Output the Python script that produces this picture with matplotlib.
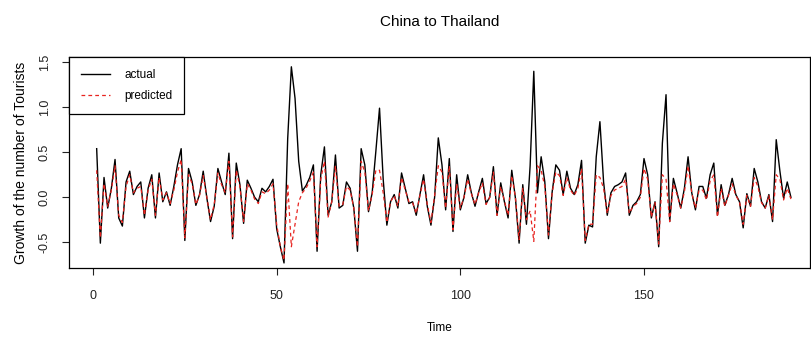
import numpy as np
import matplotlib.pyplot as plt

plt.rcParams['font.family'] = ['Liberation Sans Narrow', 'Liberation Sans', 'DejaVu Sans']

# monthly growth
actual = [
    0.54, -0.51, 0.22, -0.12, 0.10, 0.42, -0.23, -0.32, 0.17, 0.29,
    0.03, 0.12, 0.17, -0.23, 0.10, 0.25, -0.23, 0.27, -0.05, 0.06,
    -0.09, 0.12, 0.36, 0.54, -0.48, 0.32, 0.17, -0.09, 0.03, 0.29,
    -0.01, -0.27, -0.10, 0.32, 0.17, 0.03, 0.49, -0.46, 0.38, 0.14,
    -0.29, 0.19, 0.10, 0.00, -0.05, 0.10, 0.06, 0.12, 0.20, -0.35,
    -0.55, -0.73, 0.65, 1.45, 1.10, 0.40, 0.07, 0.13, 0.22, 0.36,
    -0.60, 0.25, 0.56, -0.20, -0.05, 0.47, -0.12, -0.09, 0.17, 0.10,
    -0.12, -0.60, 0.54, 0.36, -0.16, 0.05, 0.51, 0.99, 0.20, -0.31,
    -0.05, 0.03, -0.12, 0.27, 0.10, -0.07, -0.05, -0.20, 0.03, 0.25,
    -0.10, -0.31, 0.00, 0.66, 0.36, -0.14, 0.43, -0.38, 0.25, -0.14,
    0.00, 0.25, 0.05, -0.10, 0.06, 0.21, -0.07, 0.00, 0.34, -0.20,
    0.16, -0.05, -0.23, 0.30, -0.01, -0.51, 0.14, -0.30, 0.35, 1.40,
    0.05, 0.45, 0.17, -0.46, 0.06, 0.36, 0.30, 0.03, 0.29, 0.10,
    0.03, 0.14, 0.41, -0.51, -0.31, -0.33, 0.45, 0.84, 0.17, -0.20,
    0.05, 0.12, 0.14, 0.17, 0.27, -0.20, -0.09, -0.05, 0.03, 0.43,
    0.25, -0.23, -0.05, -0.55, 0.60, 1.14, -0.27, 0.21, 0.05, -0.12,
    0.10, 0.45, 0.05, -0.14, 0.12, 0.12, -0.01, 0.25, 0.38, -0.20,
    0.14, -0.09, 0.03, 0.21, 0.03, -0.05, -0.34, 0.04, -0.10, 0.32,
    0.17, -0.05, -0.12, 0.03, -0.27, 0.64, 0.29, -0.01, 0.17, 0.00,
]

predicted = [
    0.30, -0.45, 0.15, -0.10, 0.08, 0.35, -0.20, -0.28, 0.12, 0.25,
    0.05, 0.10, 0.12, -0.20, 0.08, 0.20, -0.20, 0.22, -0.03, 0.05,
    -0.07, 0.08, 0.28, 0.42, -0.45, 0.25, 0.15, -0.08, 0.02, 0.24,
    0.00, -0.25, -0.08, 0.27, 0.14, 0.05, 0.40, -0.44, 0.30, 0.12,
    -0.27, 0.15, 0.08, -0.02, -0.07, 0.06, 0.04, 0.08, 0.15, -0.30,
    -0.55, -0.70, 0.15, -0.55, -0.30, -0.05, 0.05, 0.10, 0.18, 0.28,
    -0.55, 0.20, 0.40, -0.22, -0.05, 0.35, -0.10, -0.08, 0.12, 0.08,
    -0.12, -0.55, 0.40, 0.28, -0.15, 0.03, 0.30, 0.30, 0.05, -0.28,
    -0.05, 0.02, -0.10, 0.22, 0.08, -0.05, -0.06, -0.18, 0.02, 0.20,
    -0.08, -0.28, 0.02, 0.35, 0.28, -0.12, 0.35, -0.36, 0.15, -0.12,
    0.00, 0.20, 0.04, -0.08, 0.05, 0.16, -0.08, 0.00, 0.28, -0.20,
    0.12, -0.04, -0.20, 0.24, 0.00, -0.47, 0.10, -0.25, -0.15, -0.49,
    0.35, 0.30, 0.12, -0.42, 0.05, 0.28, 0.24, 0.02, 0.22, 0.08,
    0.02, 0.10, 0.32, -0.48, -0.30, -0.30, 0.25, 0.22, 0.10, -0.18,
    0.02, 0.08, 0.10, 0.12, 0.20, -0.18, -0.10, -0.07, 0.00, 0.32,
    0.20, -0.22, -0.06, -0.52, 0.25, 0.20, -0.27, 0.15, 0.03, -0.12,
    0.06, 0.35, 0.05, -0.12, 0.08, 0.08, -0.03, 0.18, 0.25, -0.22,
    0.10, -0.10, 0.02, 0.15, 0.02, -0.05, -0.30, 0.02, -0.10, 0.22,
    0.12, -0.06, -0.12, 0.02, -0.25, 0.25, 0.20, -0.03, 0.10, -0.02,
]

time = np.arange(1, len(actual) + 1)
x_ticks = [0, 50, 100, 150]
y_ticks = [-0.5, 0.0, 0.5, 1.0, 1.5]

fig = plt.figure(figsize=(8.11, 3.4), dpi=100)
ax = fig.add_axes([0.0851, 0.2118, 0.9137, 0.6206])

ax.plot(time, actual, color='black', lw=1.0, label='actual')
ax.plot(time, predicted, color='#e8231f', lw=0.9, linestyle=(0, (3, 2.5)),
        label='predicted')

ax.set_xlim(-6.53, 195.2)
ax.set_ylim(-0.786, 1.559)

ax.set_xticks(x_ticks)
ax.set_xticklabels([str(v) for v in x_ticks])
ax.set_yticks(y_ticks)
ax.set_yticklabels(['-0.5', '0.0', '0.5', '1.0', '1.5'], rotation=90, va='center')
ax.tick_params(axis='both', direction='out', length=5, width=0.8,
               labelsize=9, colors='#222222')
ax.tick_params(axis='x', pad=11)
ax.tick_params(axis='y', pad=8)
for s in ax.spines.values():
    s.set_linewidth(0.9)

ax.set_title('China to Thailand', fontsize=11, pad=22)
ax.set_xlabel('Time', fontsize=8.5, labelpad=14)
ax.set_ylabel('Growth of the number of Tourists', fontsize=10, labelpad=8)

leg = ax.legend(loc='upper left', borderaxespad=0, fancybox=False,
                edgecolor='black', framealpha=1, fontsize=8.5,
                handlelength=2.5, handletextpad=1.2, borderpad=1.0,
                labelspacing=0.8)
leg.get_frame().set_linewidth(0.9)

fig.savefig('out.png', dpi=100)
